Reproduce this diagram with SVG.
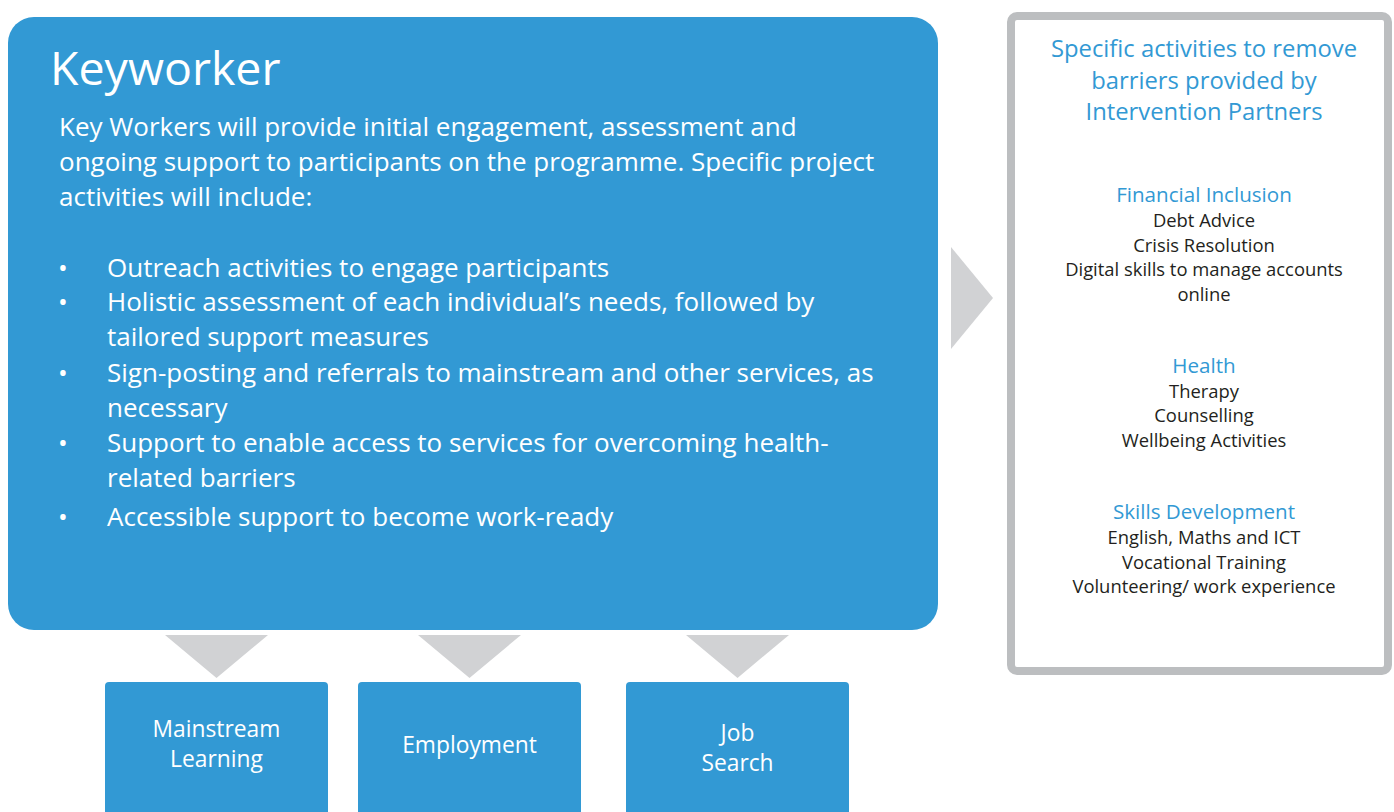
<svg xmlns="http://www.w3.org/2000/svg" width="1394" height="812" viewBox="0 0 1394 812">
<style>
.blue{fill:#3299d4}
.arrow{fill:#d1d2d4}
.w{fill:#ffffff;font-family:"Open Sans","Liberation Sans",sans-serif}
.title{font-size:46.5px}
.body{font-size:26px}
.bt{font-size:22.8px;text-anchor:middle}
.rh{fill:#3299d4;font-family:"Open Sans","Liberation Sans",sans-serif;text-anchor:middle}
.rt{font-size:23.8px}
.sh{font-size:20.6px}
.it{fill:#231f20;font-family:"Open Sans","Liberation Sans",sans-serif;text-anchor:middle;font-size:18.4px}
</style>
<rect width="1394" height="812" fill="#ffffff"/>
<g id="keyworker">
<rect class="blue" x="8" y="17" width="930" height="613" rx="26"/>
<text class="w title" x="50" y="85">Keyworker</text>
<text class="w body" x="59" y="136">Key Workers will provide initial engagement, assessment and</text>
<text class="w body" x="59" y="171">ongoing support to participants on the programme. Specific project</text>
<text class="w body" x="59" y="206">activities will include:</text>
<g class="w body">
<text x="58" y="277">•</text><text x="107" y="277">Outreach activities to engage participants</text>
<text x="58" y="311">•</text><text x="107" y="311">Holistic assessment of each individual’s needs, followed by</text>
<text x="107" y="346">tailored support measures</text>
<text x="58" y="382">•</text><text x="107" y="382">Sign-posting and referrals to mainstream and other services, as</text>
<text x="107" y="417">necessary</text>
<text x="58" y="452">•</text><text x="107" y="452">Support to enable access to services for overcoming health-</text>
<text x="107" y="487">related barriers</text>
<text x="58" y="526">•</text><text x="107" y="526">Accessible support to become work-ready</text>
</g>
</g>
<g id="partners">
<rect x="1011" y="16" width="377" height="655" rx="6" fill="#ffffff" stroke="#bcbec0" stroke-width="8"/>
<text class="rh rt" x="1204" y="57">Specific activities to remove</text>
<text class="rh rt" x="1204" y="89">barriers provided by</text>
<text class="rh rt" x="1204" y="120">Intervention Partners</text>
<text class="rh sh" x="1204" y="202">Financial Inclusion</text>
<text class="it" x="1204" y="227">Debt Advice</text>
<text class="it" x="1204" y="252">Crisis Resolution</text>
<text class="it" x="1204" y="276">Digital skills to manage accounts</text>
<text class="it" x="1204" y="301">online</text>
<text class="rh sh" x="1204" y="373">Health</text>
<text class="it" x="1204" y="398">Therapy</text>
<text class="it" x="1204" y="422">Counselling</text>
<text class="it" x="1204" y="447">Wellbeing Activities</text>
<text class="rh sh" x="1204" y="519">Skills Development</text>
<text class="it" x="1204" y="544">English, Maths and ICT</text>
<text class="it" x="1204" y="569">Vocational Training</text>
<text class="it" x="1204" y="593">Volunteering/ work experience</text>
</g>
<g id="mainstream">
<rect class="blue" x="105" y="682" width="223" height="140" rx="4"/>
<text class="w bt" x="216.5" y="737">Mainstream</text>
<text class="w bt" x="216.5" y="767">Learning</text>
</g>
<g id="employment">
<rect class="blue" x="358" y="682" width="223" height="140" rx="4"/>
<text class="w bt" x="469.5" y="753">Employment</text>
</g>
<g id="jobsearch">
<rect class="blue" x="626" y="682" width="223" height="140" rx="4"/>
<text class="w bt" x="737.5" y="741">Job</text>
<text class="w bt" x="737.5" y="771">Search</text>
</g>
<g id="connectors">
<polygon class="arrow" points="951,247 993,298 951,349"/>
<polygon class="arrow" points="165,635 268,635 216.5,678"/>
<polygon class="arrow" points="418,635 521,635 469.5,678"/>
<polygon class="arrow" points="686,635 789,635 737.5,678"/>
</g>
</svg>
